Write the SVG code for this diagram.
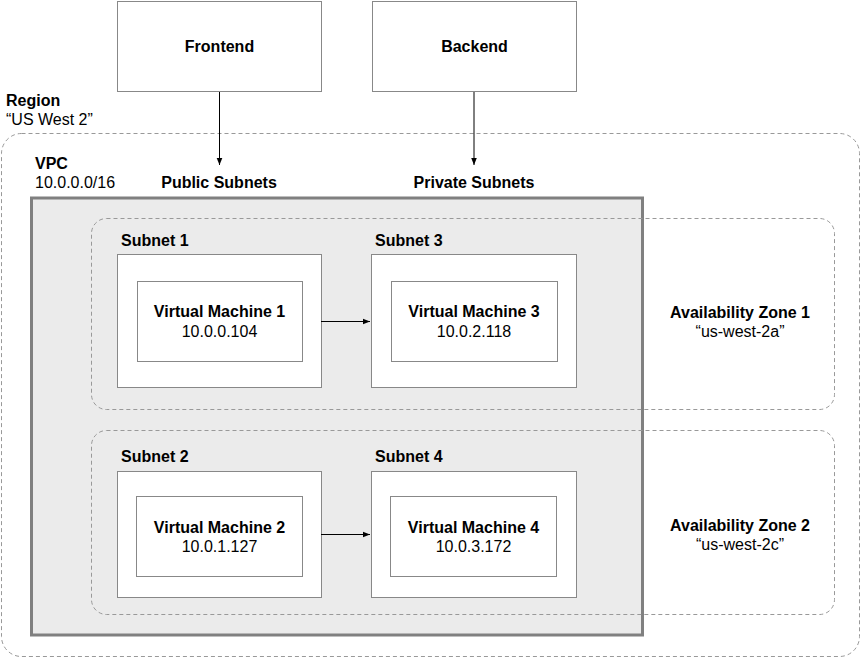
<svg xmlns="http://www.w3.org/2000/svg" width="861" height="658" viewBox="0 0 861 658">
<defs>
<style>
text{font-family:"Liberation Sans",Arial,sans-serif;font-size:16px;fill:#000}
.b{font-weight:bold}
.m{text-anchor:middle}
.box{fill:#fff;stroke:#888;stroke-width:1}
.dash{fill:none;stroke:#999;stroke-width:1;stroke-dasharray:4 3}
.conn{stroke:#000;stroke-width:1;fill:none}
</style>
<marker id="ah" viewBox="0 0 10 10" refX="10" refY="5" markerWidth="7" markerHeight="7" markerUnits="userSpaceOnUse" orient="auto">
<path d="M0,1 L10,5 L0,9 Z" fill="#000"/>
</marker>
</defs>
<rect width="861" height="658" fill="#fff"/>

<g id="region">
<rect class="dash" x="1.5" y="133.5" width="858" height="523" rx="20" ry="20"/>
<text class="b" x="6" y="106">Region</text>
<text x="6" y="125">“US West 2”</text>
</g>

<g id="vpc">
<rect x="31.5" y="198" width="611" height="437" fill="#ebebeb" stroke="#808080" stroke-width="3"/>
<text class="b" x="35" y="169">VPC</text>
<text x="35" y="188">10.0.0.0/16</text>
</g>

<g id="public-subnets-label">
<text class="b m" x="219" y="188">Public Subnets</text>
</g>
<g id="private-subnets-label">
<text class="b m" x="474" y="188">Private Subnets</text>
</g>

<g id="az1">
<rect class="dash" x="91.5" y="218.5" width="743" height="191" rx="15" ry="15"/>
<text class="b m" x="740" y="318">Availability Zone 1</text>
<text class="m" x="740" y="337">“us-west-2a”</text>
</g>

<g id="az2">
<rect class="dash" x="91.5" y="430.5" width="743" height="184" rx="15" ry="15"/>
<text class="b m" x="740" y="531">Availability Zone 2</text>
<text class="m" x="740" y="550">“us-west-2c”</text>
</g>

<g id="frontend">
<rect class="box" x="117.5" y="1.5" width="204" height="90"/>
<text class="b m" x="219.5" y="52">Frontend</text>
</g>

<g id="backend">
<rect class="box" x="372.5" y="1.5" width="204" height="90"/>
<text class="b m" x="474.5" y="52">Backend</text>
</g>

<g id="subnet1">
<rect class="box" x="117.5" y="254.5" width="204" height="133"/>
<text class="b" x="121" y="246">Subnet 1</text>
</g>
<g id="vm1">
<rect class="box" x="137.5" y="281.5" width="165" height="80"/>
<text class="b m" x="219.5" y="317">Virtual Machine 1</text>
<text class="m" x="219.5" y="337">10.0.0.104</text>
</g>

<g id="subnet3">
<rect class="box" x="371.5" y="254.5" width="205" height="133"/>
<text class="b" x="375" y="246">Subnet 3</text>
</g>
<g id="vm3">
<rect class="box" x="391.5" y="281.5" width="166" height="80"/>
<text class="b m" x="474" y="317">Virtual Machine 3</text>
<text class="m" x="474" y="337">10.0.2.118</text>
</g>

<g id="subnet2">
<rect class="box" x="117.5" y="471.5" width="204" height="126"/>
<text class="b" x="121" y="462">Subnet 2</text>
</g>
<g id="vm2">
<rect class="box" x="136.5" y="496.5" width="166" height="80"/>
<text class="b m" x="219.5" y="533">Virtual Machine 2</text>
<text class="m" x="219.5" y="552">10.0.1.127</text>
</g>

<g id="subnet4">
<rect class="box" x="371.5" y="471.5" width="205" height="126"/>
<text class="b" x="375" y="462">Subnet 4</text>
</g>
<g id="vm4">
<rect class="box" x="390.5" y="496.5" width="166" height="80"/>
<text class="b m" x="473.5" y="533">Virtual Machine 4</text>
<text class="m" x="473.5" y="552">10.0.3.172</text>
</g>

<g id="connectors">
<line class="conn" x1="219.5" y1="92" x2="219.5" y2="165" marker-end="url(#ah)"/>
<line class="conn" x1="474" y1="92" x2="474" y2="165" marker-end="url(#ah)"/>
<line class="conn" x1="321" y1="321.5" x2="370" y2="321.5" marker-end="url(#ah)"/>
<line class="conn" x1="321" y1="534.5" x2="370" y2="534.5" marker-end="url(#ah)"/>
</g>
</svg>
